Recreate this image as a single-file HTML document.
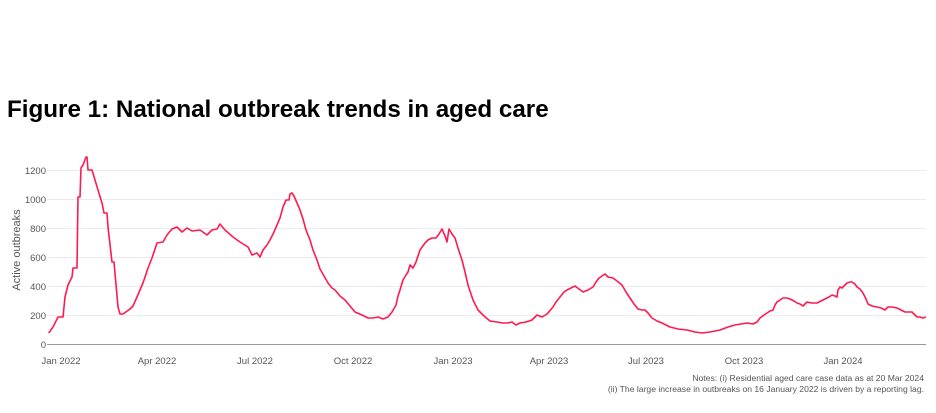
<!DOCTYPE html>
<html><head><style>
body{margin:0;background:#fff;width:936px;height:408px;overflow:hidden;font-family:"Liberation Sans",Arial,sans-serif;}
</style></head><body>
<svg width="936" height="408" xmlns="http://www.w3.org/2000/svg" font-family="Liberation Sans, Arial, sans-serif">
<text x="7" y="117" font-size="24.2" font-weight="bold" fill="#000">Figure 1: National outbreak trends in aged care</text>
<g stroke="#ebebeb" stroke-width="1">
<line x1="47" x2="926" y1="315.5" y2="315.5"/><line x1="47" x2="926" y1="286.5" y2="286.5"/>
<line x1="47" x2="926" y1="257.5" y2="257.5"/><line x1="47" x2="926" y1="228.5" y2="228.5"/>
<line x1="47" x2="926" y1="199.5" y2="199.5"/><line x1="47" x2="926" y1="170.5" y2="170.5"/>
</g>
<line x1="47" x2="926" y1="344.5" y2="344.5" stroke="#999" stroke-width="1"/>
<g font-size="9.5" fill="#555" text-anchor="end">
<text x="46" y="348">0</text><text x="46" y="319">200</text><text x="46" y="290">400</text>
<text x="46" y="261">600</text><text x="46" y="232">800</text><text x="46" y="203">1000</text><text x="46" y="174">1200</text>
</g>
<text transform="translate(20,250) rotate(-90)" font-size="11" fill="#555" text-anchor="middle">Active outbreaks</text>
<g font-size="9.5" fill="#555" text-anchor="middle">
<text x="61" y="364">Jan 2022</text><text x="157" y="364">Apr 2022</text><text x="255" y="364">Jul 2022</text>
<text x="353" y="364">Oct 2022</text><text x="453" y="364">Jan 2023</text><text x="549" y="364">Apr 2023</text>
<text x="646" y="364">Jul 2023</text><text x="744" y="364">Oct 2023</text><text x="843" y="364">Jan 2024</text>
</g>
<g font-size="8.6" fill="#555" text-anchor="end">
<text x="924" y="381">Notes: (i) Residential aged care case data as at 20 Mar 2024</text>
<text x="924" y="392">(ii) The large increase in outbreaks on 16 January 2022 is driven by a reporting lag.</text>
</g>
<polyline fill="none" stroke="#ff1a4f" stroke-width="1.6" stroke-linejoin="round" points="
48.7,333 53,327 58,317 63,317 65,297 68,285 72,277 73,268 77,268 78,197 80,197 81,168 83,165 86,157 87,157 88,170 92,170 98,190 102,203 104,213 107,213 108,227 112,262 114,262 118,307 120,314 123,314 130,309 133,306 137,297 143,283 148,268 152,258 157,243 163,242 167,235 172,229 177,227 182,232 187,228 192,231 200,230 207,235 212,230 217,229 220,224 225,230 233,237 240,242 248,247 252,255 257,253 260,257 263,250 267,245 270,240 274,232 277,225 280,218 283,207 286,200 289,200 290,194 292,193 294,196 297,203 300,210 303,219 306,230 310,240 313,250 317,260 320,269 324,276 328,283 332,288 335,290 340,296 345,300 350,306 355,312 362,315 368,318 373,318 378,317 383,319 388,317 392,312 396,305 398,296 400,290 403,280 406,275 408,272 410,265 413,268 416,262 420,250 425,243 428,240 432,238 436,238 439,234 442,229 445,236 447,242 449,229 452,234 455,238 458,248 462,260 465,272 468,285 473,300 478,310 484,316 490,321 497,322 503,323 508,323 512,322 516,325 520,323 526,322 532,320 537,315 542,317 547,314 553,307 556,302 560,297 564,292 567,290 571,288 575,286 579,289 583,292 588,290 593,287 596,282 599,278 602,276 605,274 608,277 613,278 617,281 622,285 626,292 630,298 634,304 638,309 642,310 645,310 648,313 652,318 657,321 662,323 666,325 670,327 678,329 687,330 695,332 702,333 710,332 720,330 728,327 735,325 741,324 747,323 753,324 757,322 760,318 764,315 767,313 770,311 773,310 775,305 777,302 780,300 783,298 787,298 790,299 794,301 797,303 800,304 803,306 807,302 812,303 817,303 821,301 825,299 829,297 832,295 835,296 837,297 838,290 840,287 842,288 845,285 847,283 850,282 852,282 855,284 857,287 860,289 863,293 866,299 868,304 872,306 877,307 881,308 885,310 888,307 892,307 897,308 901,310 905,312 912,312 914,314 917,317 920,317 923,318 926,317"/>
</svg>
</body></html>
